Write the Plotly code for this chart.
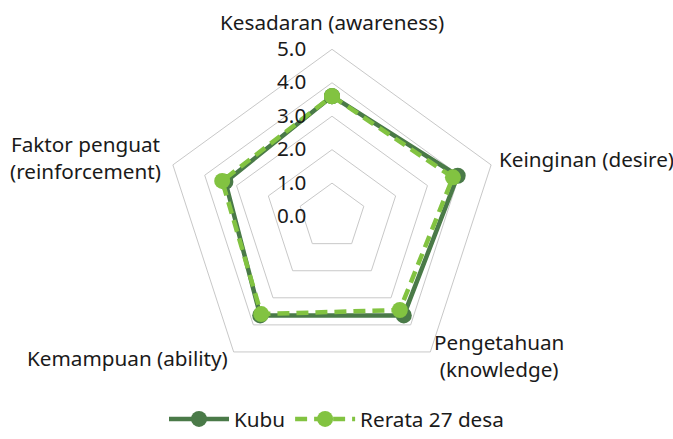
import math
import plotly.graph_objects as go

categories = ["Kesadaran (awareness)", "Keinginan (desire)", "Pengetahuan<br>(knowledge)",
              "Kemampuan (ability)", "Faktor penguat<br>(reinforcement)"]
kubu = [3.6, 3.95, 3.65, 3.65, 3.35]
rerata = [3.6, 3.8, 3.45, 3.6, 3.45]
tick_vals = [0, 1, 2, 3, 4, 5]
tick_text = ["0.0", "1.0", "2.0", "3.0", "4.0", "5.0"]

FONT = "Noto Sans"
FS = 20.7
DARK = "#4a7a48"
LIGHT = "#82c341"
W, H = 673, 439
CX, CY, R = 332.0, 216.6, 167.3  # target centre/radius in pixels (from top-left)

dom_x = [(CX - R) / W, (CX + R) / W]
dom_y = [(H - CY - R) / H, (H - CY + R) / H]

fig = go.Figure()
fig.add_trace(go.Scatterpolar(
    r=kubu + kubu[:1], theta=categories + categories[:1], name="Kubu",
    mode="lines+markers",
    line=dict(color=DARK, width=4.5),
    marker=dict(color=DARK, size=16),
))
fig.add_trace(go.Scatterpolar(
    r=rerata + rerata[:1], theta=categories + categories[:1], name="Rerata 27 desa",
    mode="lines+markers",
    line=dict(color=LIGHT, width=4.5, dash="12px,7px"),
    marker=dict(color=LIGHT, size=16),
))

# category labels placed Excel-style around the pentagon
label_cfg = [  # (extra offset px, xanchor, yanchor, xshift, yshift)
    (11, "center", "bottom", 0, 0),
    (6, "left", "middle", 0, 4),
    (3, "left", "middle", 0, -1),
    (6, "right", "middle", 0, -1),
    (10, "right", "middle", 0, 4),
]
annotations = []
for i, (cat, (off, xa, ya, xs, ys)) in enumerate(zip(categories, label_cfg)):
    ang = math.radians(90 - 72 * i)
    px = CX + (R + off) * math.cos(ang)
    py = CY - (R + off) * math.sin(ang)
    annotations.append(dict(
        text=cat, x=px / W, y=1 - py / H, xref="paper", yref="paper",
        xanchor=xa, yanchor=ya, xshift=xs, yshift=ys, showarrow=False,
        align="center", font=dict(size=FS, family=FONT, color="#1a1a1a"),
    ))

fig.update_layout(
    width=W, height=H,
    margin=dict(l=0, r=0, t=0, b=0, autoexpand=False),
    paper_bgcolor="white", plot_bgcolor="white",
    font=dict(family=FONT, size=FS, color="#1a1a1a"),
    annotations=annotations,
    polar=dict(
        domain=dict(x=dom_x, y=dom_y),
        gridshape="linear",
        bgcolor="white",
        radialaxis=dict(
            range=[0, 5], tickvals=tick_vals, ticktext=tick_text,
            angle=90, tickangle=90, showline=False,
            ticks="outside", ticklen=18, tickcolor="rgba(0,0,0,0)",
            gridcolor="#c8c8c8", gridwidth=1,
            tickfont=dict(size=FS, family=FONT, color="#1a1a1a"),
            side="counterclockwise",
        ),
        angularaxis=dict(
            rotation=90, direction="clockwise",
            showline=True, linecolor="#c8c8c8", linewidth=1,
            showgrid=False, ticks="", showticklabels=False,
        ),
    ),
    legend=dict(
        orientation="h", x=0.5, xanchor="center", y=0.0, yanchor="bottom",
        font=dict(size=FS, family=FONT, color="#1a1a1a"),
        itemwidth=60,
    ),
)

fig.write_html(
    "out.html",
    config={"displayModeBar": False},
    post_script="document.body.style.margin='0';document.body.style.overflow='hidden';",
)
